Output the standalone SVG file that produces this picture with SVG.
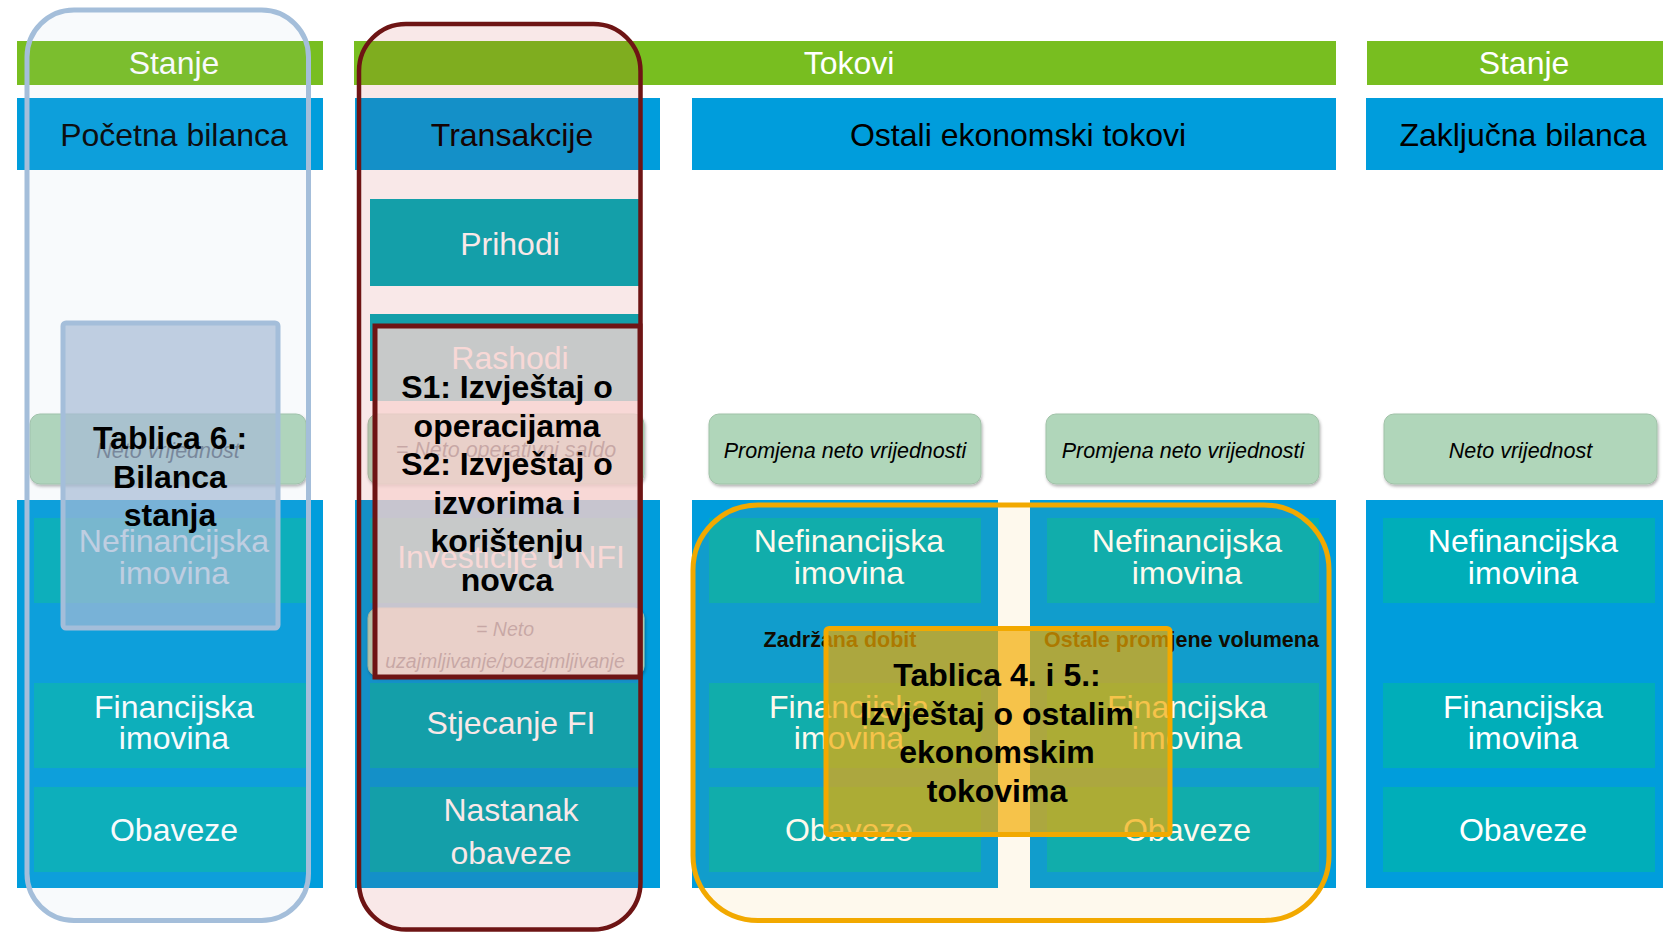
<svg xmlns="http://www.w3.org/2000/svg" width="1663" height="933" viewBox="0 0 1663 933">
<defs>
<style>
text{font-family:"Liberation Sans",Arial,sans-serif}
.hdr{fill:#78BE20}
.blue{fill:#009DDC}
.teal{fill:#00AEB9}
.gbox{fill:#B0D6BA;stroke:#A0C2A8;stroke-width:1}
.wt{fill:#fff;font-size:32px;text-anchor:middle}
.bt{fill:#000;font-size:32px;text-anchor:middle}
.it{fill:#000;font-size:21.5px;font-style:italic;text-anchor:middle}
.bold{fill:#000;font-size:32px;font-weight:bold;text-anchor:middle}
.lbl{fill:#000;font-size:21.5px;font-weight:bold;text-anchor:middle}
</style>
<filter id="sh" x="-5%" y="-10%" width="115%" height="130%"><feDropShadow dx="1" dy="2" stdDeviation="1.5" flood-color="#000" flood-opacity="0.3"/></filter>
</defs>
<rect width="1663" height="933" fill="#fff"/>

<!-- top bars -->
<g id="hdr-stanje-left"><rect class="hdr" x="17" y="41" width="306" height="44"/><text class="wt" x="174" y="74">Stanje</text></g>
<g id="hdr-tokovi"><rect class="hdr" x="354" y="41" width="982" height="44"/><text class="wt" x="849" y="74">Tokovi</text></g>
<g id="hdr-stanje-right"><rect class="hdr" x="1367" y="41" width="320" height="44"/><text class="wt" x="1524" y="74">Stanje</text></g>

<!-- column headers -->
<g id="col-pocetna"><rect class="blue" x="17" y="98" width="306" height="72"/><text class="bt" x="174" y="146">Početna bilanca</text></g>
<g id="col-transakcije"><rect class="blue" x="355" y="98" width="305" height="72"/><text class="bt" x="512" y="146">Transakcije</text></g>
<g id="col-ostali"><rect class="blue" x="692" y="98" width="644" height="72"/><text class="bt" x="1018" y="146">Ostali ekonomski tokovi</text></g>
<g id="col-zakljucna"><rect class="blue" x="1366" y="98" width="320" height="72"/><text class="bt" x="1523" y="146">Zaključna bilanca</text></g>

<!-- Pocetna bilanca column -->
<g id="pocetna-neto"><rect class="gbox" filter="url(#sh)" x="30" y="414" width="276" height="70" rx="10"/><text class="it" x="168" y="458">Neto vrijednost</text></g>
<g id="pocetna-stock">
<rect class="blue" x="17" y="500" width="306" height="388"/>
<rect class="teal" x="34" y="518" width="272" height="85"/>
<text class="wt" x="174" y="552">Nefinancijska</text><text class="wt" x="174" y="584">imovina</text>
<rect class="teal" x="34" y="683" width="272" height="85"/>
<text class="wt" x="174" y="718">Financijska</text><text class="wt" x="174" y="749">imovina</text>
<rect class="teal" x="34" y="787" width="272" height="85"/>
<text class="wt" x="174" y="841">Obaveze</text>
</g>

<!-- Transakcije column -->
<g id="tr-prihodi"><rect class="teal" x="370" y="199" width="271" height="87"/><text class="wt" x="510" y="255">Prihodi</text></g>
<g id="tr-rashodi"><rect class="teal" x="370" y="314" width="271" height="87"/><text class="wt" x="510" y="369">Rashodi</text></g>
<g id="tr-neto-op"><rect class="gbox" filter="url(#sh)" x="368" y="414" width="276" height="70" rx="10"/><text class="it" x="506" y="457">= Neto operativni saldo</text></g>
<g id="tr-lower">
<rect class="blue" x="355" y="500" width="305" height="388"/>
<rect class="teal" x="370" y="518" width="271" height="85"/>
<text class="wt" x="511" y="568">Investicije u NFI</text>
</g>
<g id="tr-neto-uz"><rect class="gbox" filter="url(#sh)" x="368" y="608" width="276" height="68" rx="10"/><text class="it" style="font-size:19.5px" x="505" y="636">= Neto</text><text class="it" style="font-size:19.5px" x="505" y="668">uzajmljivanje/pozajmljivanje</text></g>
<g id="tr-stjecanje"><rect class="teal" x="370" y="683" width="271" height="85"/><text class="wt" x="511" y="734">Stjecanje FI</text></g>
<g id="tr-nastanak"><rect class="teal" x="370" y="787" width="271" height="85"/><text class="wt" x="511" y="821">Nastanak</text><text class="wt" x="511" y="864">obaveze</text></g>

<!-- Ostali ekonomski tokovi: left -->
<g id="ost-left-neto"><rect class="gbox" filter="url(#sh)" x="709" y="414" width="272" height="70" rx="10"/><text class="it" x="845" y="458">Promjena neto vrijednosti</text></g>
<g id="ost-left">
<rect class="blue" x="692" y="500" width="306" height="388"/>
<rect class="teal" x="709" y="518" width="272" height="85"/>
<text class="wt" x="849" y="552">Nefinancijska</text><text class="wt" x="849" y="584">imovina</text>
<text class="lbl" x="840" y="647">Zadržana dobit</text>
<rect class="teal" x="709" y="683" width="272" height="85"/>
<text class="wt" x="849" y="718">Financijska</text><text class="wt" x="849" y="749">imovina</text>
<rect class="teal" x="709" y="787" width="272" height="85"/>
<text class="wt" x="849" y="841">Obaveze</text>
</g>
<!-- Ostali ekonomski tokovi: right -->
<g id="ost-right-neto"><rect class="gbox" filter="url(#sh)" x="1046" y="414" width="273" height="70" rx="10"/><text class="it" x="1183" y="458">Promjena neto vrijednosti</text></g>
<g id="ost-right">
<rect class="blue" x="1030" y="500" width="306" height="388"/>
<rect class="teal" x="1047" y="518" width="272" height="85"/>
<text class="wt" x="1187" y="552">Nefinancijska</text><text class="wt" x="1187" y="584">imovina</text>
<text class="lbl" x="1181.5" y="647">Ostale promjene volumena</text>
<rect class="teal" x="1047" y="683" width="272" height="85"/>
<text class="wt" x="1187" y="718">Financijska</text><text class="wt" x="1187" y="749">imovina</text>
<rect class="teal" x="1047" y="787" width="272" height="85"/>
<text class="wt" x="1187" y="841">Obaveze</text>
</g>

<!-- Zakljucna bilanca column -->
<g id="zak-neto"><rect class="gbox" filter="url(#sh)" x="1384" y="414" width="273" height="70" rx="10"/><text class="it" x="1520.5" y="458">Neto vrijednost</text></g>
<g id="zak-stock">
<rect class="blue" x="1366" y="500" width="320" height="388"/>
<rect class="teal" x="1383" y="518" width="272" height="85"/>
<text class="wt" x="1523" y="552">Nefinancijska</text><text class="wt" x="1523" y="584">imovina</text>
<rect class="teal" x="1383" y="683" width="272" height="85"/>
<text class="wt" x="1523" y="718">Financijska</text><text class="wt" x="1523" y="749">imovina</text>
<rect class="teal" x="1383" y="787" width="272" height="85"/>
<text class="wt" x="1523" y="841">Obaveze</text>
</g>

<!-- highlight overlays -->
<g id="overlay-bilanca"><rect x="27" y="10" width="281.5" height="910.5" rx="47" fill="#A6BAD6" fill-opacity="0.08" stroke="#A4BEDA" stroke-width="5"/></g>
<g id="overlay-transakcije"><rect x="359" y="24" width="281.5" height="905.5" rx="47" fill="#C81E1E" fill-opacity="0.1" stroke="#6E1414" stroke-width="4.5"/></g>
<g id="overlay-ostali"><rect x="693" y="505" width="636" height="415.5" rx="65" fill="#F2A900" fill-opacity="0.07" stroke="#F2A900" stroke-width="5"/></g>

<!-- statement boxes -->
<g id="tablica6">
<rect x="63" y="323" width="215" height="305" rx="3" fill="#A6BAD6" fill-opacity="0.7" stroke="#A4BEDA" stroke-width="5"/>
<text class="bold" x="170" y="449">Tablica 6.:</text>
<text class="bold" x="170" y="487.5">Bilanca</text>
<text class="bold" x="170" y="526">stanja</text>
</g>
<g id="s1s2">
<rect x="375" y="326" width="265" height="351" fill="#F7D4D1" fill-opacity="0.79" stroke="#6E1414" stroke-width="5"/>
<text class="bold" x="507" y="398">S1: Izvještaj o</text>
<text class="bold" x="507" y="436.5">operacijama</text>
<text class="bold" x="507" y="475">S2: Izvještaj o</text>
<text class="bold" x="507" y="513.5">izvorima i</text>
<text class="bold" x="507" y="552">korištenju</text>
<text class="bold" x="507" y="590.5">novca</text>
</g>
<g id="tablica45">
<rect x="826" y="628.5" width="344" height="206" rx="3" fill="#F2AB00" fill-opacity="0.69" stroke="#F2A900" stroke-width="5"/>
<text class="bold" x="997" y="686">Tablica 4. i 5.:</text>
<text class="bold" x="997" y="724.5">Izvještaj o ostalim</text>
<text class="bold" x="997" y="763">ekonomskim</text>
<text class="bold" x="997" y="801.5">tokovima</text>
</g>
</svg>
